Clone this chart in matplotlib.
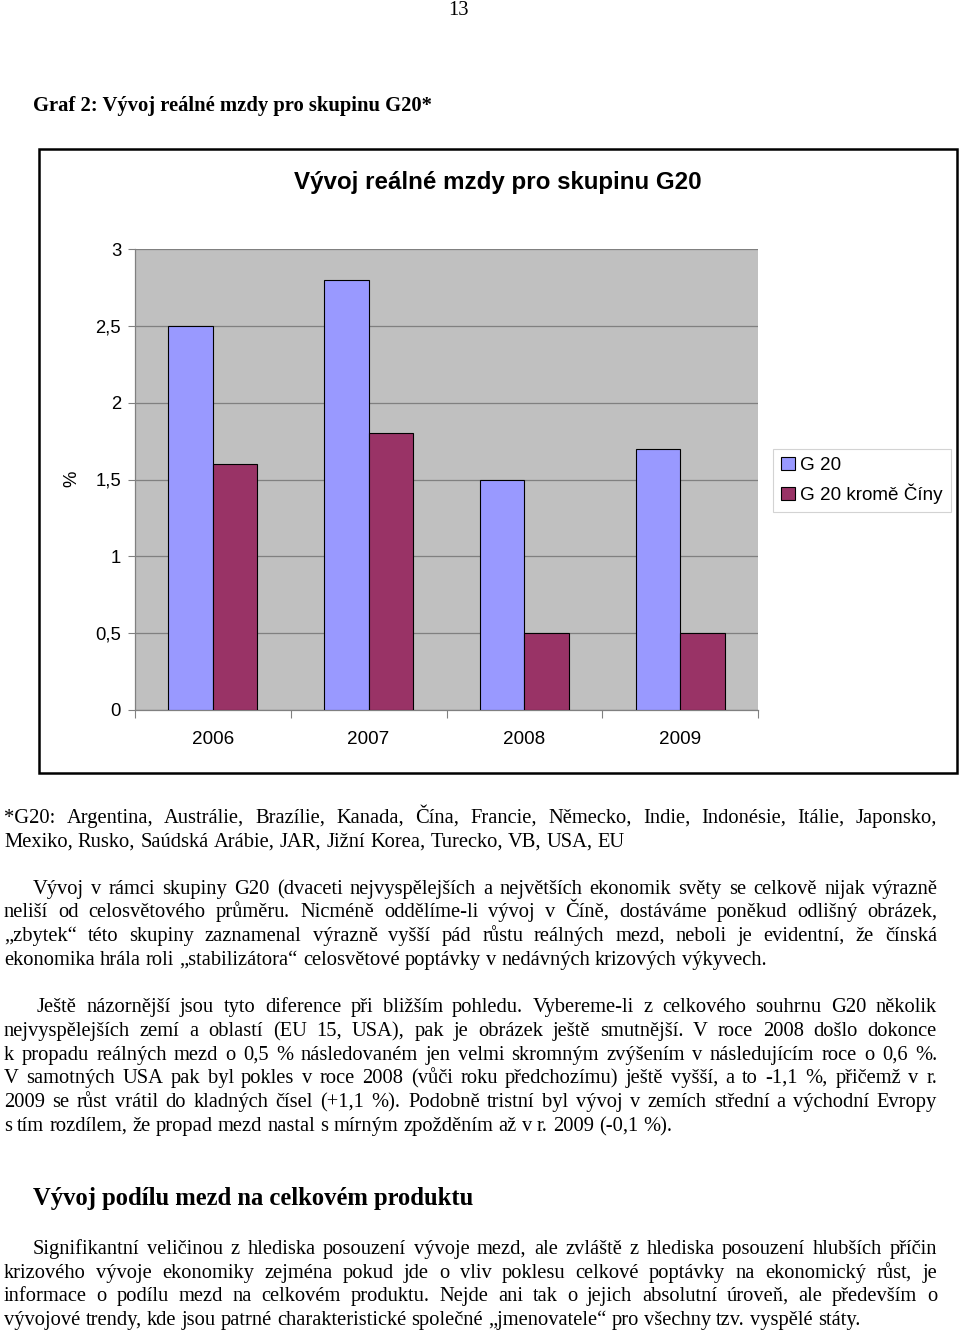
import matplotlib
matplotlib.use("Agg")
import matplotlib.pyplot as plt
from matplotlib.patches import Rectangle
import numpy as np
import unicodedata

# ---------------- data ----------------
years = ["2006", "2007", "2008", "2009"]
g20 = [2.5, 2.8, 1.5, 1.7]
g20_ex_china = [1.6, 1.8, 0.5, 0.5]
series_labels = ["G 20", "G 20 kromě Číny"]
ytick_values = [0, 0.5, 1, 1.5, 2, 2.5, 3]
ytick_labels = ["0", "0,5", "1", "1,5", "2", "2,5", "3"]

chart_title = "Vývoj reálné mzdy pro skupinu G20"
caption = "Graf 2: Vývoj reálné mzdy pro skupinu G20*"
page_number = "13"
heading2 = "Vývoj podílu mezd na celkovém produktu"

para_footnote = [
    ("*G20: Argentina, Austrálie, Brazílie, Kanada, Čína, Francie, Německo, Indie, Indonésie, Itálie, Japonsko,", True, 4),
    ("Mexiko, Rusko, Saúdská Arábie, JAR, Jižní Korea, Turecko, VB, USA, EU", False, 4),
]
para1 = [
    ("Vývoj v rámci skupiny G20 (dvaceti nejvyspělejších a největších ekonomik světy se celkově nijak výrazně", True, 33),
    ("neliší od celosvětového průměru. Nicméně oddělíme-li vývoj v Číně, dostáváme poněkud odlišný obrázek,", True, 4),
    ("„zbytek“ této skupiny zaznamenal výrazně vyšší pád růstu reálných mezd, neboli je evidentní, že čínská", True, 4),
    ("ekonomika hrála roli „stabilizátora“ celosvětové poptávky v nedávných krizových výkyvech.", False, 4),
]
para2 = [
    ("Ještě názornější jsou tyto diference při bližším pohledu. Vybereme-li z celkového souhrnu G20 několik", True, 37),
    ("nejvyspělejších zemí a oblastí (EU 15, USA), pak je obrázek ještě smutnější. V roce 2008 došlo dokonce", True, 4),
    ("k propadu reálných mezd o 0,5 % následovaném jen velmi skromným zvýšením v následujícím roce o 0,6 %.", True, 4),
    ("V samotných USA pak byl pokles v roce 2008 (vůči roku předchozímu) ještě vyšší, a to -1,1 %, přičemž v r.", True, 4),
    ("2009 se růst vrátil do kladných čísel (+1,1 %). Podobně tristní byl vývoj v zemích střední a východní Evropy", True, 4),
    ("s tím rozdílem, že propad mezd nastal s mírným zpožděním až v r. 2009 (-0,1 %).", False, 4),
]
para3 = [
    ("Signifikantní veličinou z hlediska posouzení vývoje mezd, ale zvláště z hlediska posouzení hlubších příčin", True, 33),
    ("krizového vývoje ekonomiky zejména pokud jde o vliv poklesu celkové poptávky na ekonomický růst, je", True, 4),
    ("informace o podílu mezd na celkovém produktu. Nejde ani tak o jejich absolutní úroveň, ale především o", True, 4),
    ("vývojové trendy, kde jsou patrné charakteristické společné „jmenovatele“ pro všechny tzv. vyspělé státy.", False, 4),
]

# ---------------- setup ----------------
W, H = 960, 1331
fig = plt.figure(figsize=(W / 100, H / 100), dpi=100)
fig.patch.set_facecolor("white")

SERIF = "Liberation Serif"
SANS = "Liberation Sans"


def fx(px):
    return px / W


def fy(py):
    return 1 - py / H


renderer = fig.canvas.get_renderer()
BODY_FS = 14.8


def text_width(s, fs, family=SERIF, weight="normal"):
    t = fig.text(0, 0, s, fontsize=fs, family=family, weight=weight)
    w = t.get_window_extent(renderer).width
    t.remove()
    return w


def draw_line(line, justify, x0, y_center, x1=937, fs=BODY_FS):
    line = unicodedata.normalize("NFC", line)
    words = line.split(" ")
    widths = [text_width(w, fs) for w in words]
    space = text_width("a a", fs) - text_width("aa", fs)
    if justify and len(words) > 1:
        gap = (x1 - x0 - sum(widths)) / (len(words) - 1)
        gap = max(gap, 0.4 * space)
    else:
        gap = space
    x = x0
    base = y_center + 7
    for w, wd in zip(words, widths):
        core = w.rstrip(",.")
        punct = w[len(core):]
        if "ů" in core and punct:
            # this glyph combination shifts matplotlib's baseline, so draw the
            # trailing punctuation separately
            fig.text(fx(x), fy(base), core, fontsize=fs, family=SERIF, va="baseline", ha="left")
            fig.text(fx(x + wd - 2), fy(base), punct, fontsize=fs, family=SERIF, va="baseline", ha="right")
        else:
            fig.text(fx(x), fy(base), w, fontsize=fs, family=SERIF, va="baseline", ha="left")
        x += wd + gap


# page number & caption
fig.text(fx(458), fy(1), page_number, fontsize=BODY_FS, family=SERIF, ha="center", va="top")
fig.text(fx(33), fy(106), caption, fontsize=14.9, family=SERIF, weight="bold", ha="left", va="center")

# ---------------- chart ----------------
frame = Rectangle((fx(39), fy(773)), fx(957) - fx(39), fy(149) - fy(773),
                  transform=fig.transFigure, fill=False, edgecolor="black", linewidth=1.8)
fig.patches.append(frame)

ax = fig.add_axes([fx(135), fy(710), fx(758) - fx(135), fy(249) - fy(710)])
ax.set_facecolor("#C0C0C0")
x = np.arange(len(years))
bw = 0.286
ax.bar(x - bw / 2, g20, width=bw, color="#9999FF", edgecolor="black", linewidth=0.8,
       label=series_labels[0], zorder=3)
ax.bar(x + bw / 2, g20_ex_china, width=bw, color="#993366", edgecolor="black", linewidth=0.8,
       label=series_labels[1], zorder=3)
ax.set_xlim(-0.5, len(years) - 0.5)
ax.set_ylim(0, 3)
ax.set_yticks(ytick_values)
ax.set_yticklabels(ytick_labels, fontsize=13.3, family=SANS)
ax.set_xticks(x)
ax.set_xticklabels(years, fontsize=13.6, family=SANS)
ax.tick_params(axis="x", which="major", length=0, pad=15)
ax.set_xticks(np.arange(-0.5, len(years), 1.0), minor=True)
ax.tick_params(axis="x", which="minor", length=6, color="#808080", width=0.8)
ax.tick_params(axis="y", which="major", length=5, color="#808080", width=0.8, pad=5)
ax.yaxis.grid(True, color="#808080", linewidth=0.9, zorder=1)
ax.set_axisbelow(True)
for s in ["top", "right"]:
    ax.spines[s].set_visible(False)
for s in ["left", "bottom"]:
    ax.spines[s].set_color("#808080")
    ax.spines[s].set_linewidth(0.9)

fig.text(fx(498), fy(183), chart_title, fontsize=17.4, family=SANS, weight="bold", ha="center", va="center")
fig.text(fx(72), fy(479), "%", fontsize=13.3, family=SANS, rotation=90, ha="center", va="center")

leg = ax.legend(loc="upper left", bbox_to_anchor=(fx(773), fy(449)), bbox_transform=fig.transFigure,
                prop={"family": SANS, "size": 13.6}, frameon=True, fancybox=False, handlelength=0.72,
                handleheight=0.72, handletextpad=0.3, labelspacing=0.5, borderpad=0.42,
                borderaxespad=0)
leg.get_frame().set_edgecolor("#C8C8C8")
leg.get_frame().set_linewidth(0.8)

# ---------------- body text ----------------
for (line, just, x0), yc in zip(para_footnote, [816, 840]):
    draw_line(line, just, x0, yc)
for (line, just, x0), yc in zip(para1, [887, 910, 934, 958]):
    draw_line(line, just, x0, yc)
for (line, just, x0), yc in zip(para2, [1005, 1029, 1053, 1076, 1100, 1124]):
    draw_line(line, just, x0, yc)

fig.text(fx(33), fy(1198), heading2, fontsize=17.7, family=SERIF, weight="bold", ha="left", va="center")

for (line, just, x0), yc in zip(para3, [1247, 1271, 1294, 1318]):
    draw_line(line, just, x0, yc)

fig.savefig("out.png", dpi=100, facecolor="white")
